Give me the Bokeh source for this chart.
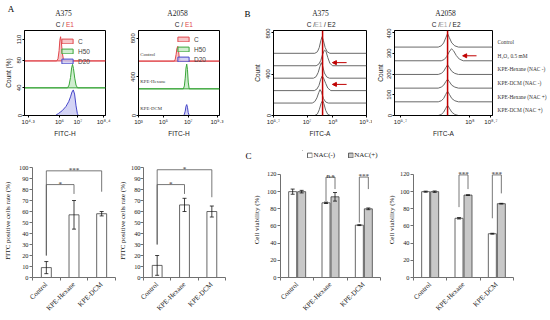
import math
from bokeh.plotting import figure
from bokeh.layouts import row, column
from bokeh.models import (FixedTicker, Label, LabelSet, Legend, LegendItem, Span,
                          Arrow, NormalHead, Whisker, TeeHead, ColumnDataSource, LinearAxis)
from bokeh.embed import file_html
from bokeh.resources import INLINE
from bokeh.core.properties import value

SANS = "Liberation Sans"
SERIF = "Liberation Serif"

# ---------------- DATA ----------------
# A (top-left): A375 FITC-H histograms (x = log10 FITC-H, y = count %)
fa375_ticks = [4.3, 6, 7, 8.4]
fa375_tick_labels = ["10⁴·³", "10⁶", "10⁷", "10⁸·⁴"]
fa375_yticks = [0, 40, 80, 110]
fa375_names = ["C", "H50", "D20"]
fa375_offsets = [79, 40, 0]
fa375_c_x = [4.1, 5.85, 5.92, 5.98, 6.02, 6.06, 6.1, 6.15, 6.21, 6.28, 8.5]
fa375_c_y = [0, 0, 3, 15, 30, 35, 28, 12, 3, 0, 0]
fa375_h_x = [4.1, 6.44, 6.52, 6.6, 6.66, 6.71, 6.76, 6.83, 6.9, 6.98, 8.5]
fa375_h_y = [0, 0, 4, 15, 29, 34, 28, 14, 4, 0, 0]
fa375_d_x = [4.1, 5.78, 5.95, 6.15, 6.35, 6.5, 6.6, 6.68, 6.75, 6.82, 6.9, 6.97, 7.02, 8.5]
fa375_d_y = [0, 0, 3, 7, 13, 20, 27, 34, 37, 31, 14, 3, 0, 0]

# A (top-right): A2058 FITC-H histograms
fa2058_ticks = [3, 5, 7, 9.3]
fa2058_tick_labels = ["10³", "10⁵", "10⁷", "10⁹·³"]
fa2058_yticks = [0, 400, 800]
fa2058_groups = ["Control", "KPE-Hexane", "KPE-DCM"]
fa2058_offsets = [563, 276, 0]
fa2058_c_x = [3, 5.88, 5.95, 6.02, 6.08, 6.15, 6.21, 6.27, 6.35, 9.5]
fa2058_c_y = [0, 0, 20, 70, 130, 153, 110, 35, 0, 0]
fa2058_h_x = [3, 6.6, 6.68, 6.75, 6.81, 6.87, 6.93, 6.99, 7.07, 9.5]
fa2058_h_y = [0, 0, 30, 110, 215, 256, 200, 70, 0, 0]
fa2058_d_x = [3, 6.6, 6.68, 6.75, 6.81, 6.87, 6.93, 6.99, 7.07, 9.5]
fa2058_d_y = [0, 0, 12, 45, 95, 113, 85, 30, 0, 0]

# B: FITC-A histograms, 6 conditions
b_names = ["Control", "H₂O₂ 0.5 mM", "KPE-Hexane (NAC -)", "KPE-DCM (NAC -)",
           "KPE-Hexane (NAC +)", "KPE-DCM (NAC +)"]
b375_ticks = [5.7, 7, 8, 9.3]
b375_tick_labels = ["10⁵·⁷", "10⁷", "10⁸", "10⁹·³"]
b375_yticks = [0, 400, 800]
b375_offsets = [600, 480, 360, 240, 120, 0]
b375_x = [
    [5.7, 7.3, 7.4, 7.47, 7.53, 7.58, 7.63, 7.7, 7.78, 7.88, 9.3],
    [5.7, 7.35, 7.45, 7.53, 7.6, 7.67, 7.73, 7.8, 7.88, 7.98, 9.3],
    [5.7, 7.25, 7.35, 7.43, 7.5, 7.55, 7.6, 7.67, 7.76, 7.86, 9.3],
    [5.7, 7.28, 7.38, 7.46, 7.53, 7.58, 7.64, 7.72, 7.8, 7.92, 9.3],
    [5.7, 7.2, 7.3, 7.38, 7.45, 7.5, 7.56, 7.63, 7.72, 7.82, 9.3],
    [5.7, 7.3, 7.4, 7.47, 7.54, 7.6, 7.65, 7.72, 7.8, 7.9, 9.3],
]
b375_y = [
    [0, 0, 15, 55, 120, 160, 125, 55, 15, 0, 0],
    [0, 0, 15, 50, 110, 150, 140, 80, 25, 0, 0],
    [0, 0, 15, 55, 115, 150, 120, 50, 12, 0, 0],
    [0, 0, 15, 50, 110, 140, 120, 70, 25, 0, 0],
    [0, 0, 15, 50, 100, 130, 105, 45, 10, 0, 0],
    [0, 0, 15, 55, 115, 145, 115, 50, 12, 0, 0],
]
b375_marker = 7.6
b375_arrow_y = [510, 300]
b375_arrow_from = 8.53
b375_arrow_to = 7.98

b2058_ticks = [5.7, 8, 8.7]
b2058_tick_labels = ["10⁵·⁷", "10⁸", "10⁸·⁷"]
b2058_yticks = [0, 100, 200, 300, 400]
b2058_offsets = [330, 264, 198, 132, 66, 0]
b2058_x = [
    [5.5, 6.95, 7.05, 7.13, 7.2, 7.26, 7.32, 7.4, 7.5, 7.62, 8.75],
    [5.5, 7.05, 7.15, 7.23, 7.31, 7.39, 7.46, 7.55, 7.65, 7.78, 8.75],
    [5.5, 6.95, 7.05, 7.13, 7.2, 7.26, 7.32, 7.4, 7.5, 7.62, 8.75],
    [5.5, 6.95, 7.05, 7.13, 7.2, 7.26, 7.32, 7.4, 7.5, 7.62, 8.75],
    [5.5, 6.95, 7.05, 7.13, 7.2, 7.26, 7.32, 7.4, 7.5, 7.62, 8.75],
    [5.5, 6.95, 7.05, 7.13, 7.2, 7.26, 7.32, 7.4, 7.5, 7.62, 8.75],
]
b2058_y = [
    [0, 0, 6, 20, 45, 65, 45, 20, 6, 0, 0],
    [0, 0, 6, 20, 42, 58, 48, 25, 8, 0, 0],
    [0, 0, 5, 15, 33, 46, 33, 15, 5, 0, 0],
    [0, 0, 5, 14, 31, 43, 31, 14, 5, 0, 0],
    [0, 0, 5, 16, 36, 51, 36, 16, 5, 0, 0],
    [0, 0, 5, 16, 35, 49, 35, 16, 5, 0, 0],
]
b2058_marker = 7.26
b2058_arrow_y = [288]
b2058_arrow_from = 8.22
b2058_arrow_to = 7.76

# A (bottom): FITC positive cells rate (%)
bar_cats = ["Control", "KPE-Hexane", "KPE-DCM"]
a375_rate = [9, 57, 58]
a375_rate_err = [5.5, 13, 2]
a2058_rate = [11, 66, 60]
a2058_rate_err = [9, 6, 5]
a375_br_from = [1, 1]
a375_br_to = [2, 3]
a375_br_top = [84.5, 97]
a375_br_left = [20, 20]
a375_br_right = [76, 78]
a375_br_text = ["*", "***"]
a2058_br_from = [1, 1]
a2058_br_to = [2, 3]
a2058_br_top = [84.5, 98]
a2058_br_left = [30, 30]
a2058_br_right = [76, 73]
a2058_br_text = ["*", "*"]

# C: Cell viability (%) with NAC(-) / NAC(+)
nac_labels = ["NAC(-)", "NAC(+)"]
c375_neg = [100, 87, 61]
c375_neg_err = [3, 0.8, 0.5]
c375_pos = [100, 94, 80]
c375_pos_err = [1.5, 5, 1]
c2058_neg = [100, 69, 51]
c2058_neg_err = [0.6, 0.8, 0.5]
c2058_pos = [100, 96, 86]
c2058_pos_err = [0.8, 0.4, 0.4]
c375_br_group = [2, 3]
c375_br_top = [117, 117]
c375_br_left = [89, 64]
c375_br_right = [103, 103]
c375_br_text = ["n.s", "***"]
c2058_br_group = [2, 3]
c2058_br_top = [119.5, 119.5]
c2058_br_left = [82, 69]
c2058_br_right = [103, 98]
c2058_br_text = ["***", "***"]

# ---------------- HELPERS ----------------
def mkfig(w, h, l, r, t, b, xr, yr):
    p = figure(width=w, height=h, x_range=xr, y_range=yr, title=None,
               output_backend="svg", toolbar_location=None,
               min_border_left=l, min_border_right=r, min_border_top=t, min_border_bottom=b)
    p.grid.visible = False
    p.outline_line_color = None
    return p


def header(x0, w, y0, h, top=0):
    f = figure(width=w, height=h, x_range=(x0, x0 + w), y_range=(y0 + h, y0 + top), title=None,
               output_backend="svg", toolbar_location=None, x_axis_type=None, y_axis_type=None,
               min_border=0, min_border_top=top)
    f.grid.visible = False
    f.outline_line_color = None
    return f


def htxt(f, text, x, y, size, font=SANS, color="#222222", align="center"):
    f.add_layout(Label(x=x, y=y, text=text, text_font=font, text_font_size=size,
                       text_color=color, text_align=align, text_baseline="middle"))


def flow_style(p, xt, xl, yt, xlabel, ylabel):
    p.outline_line_color = "black"
    p.outline_line_width = 1
    xa, ya = p.xaxis[0], p.yaxis[0]
    xa.ticker = FixedTicker(ticks=xt, minor_ticks=[])
    xa.major_label_overrides = {t: l for t, l in zip(xt, xl)}
    ya.ticker = FixedTicker(ticks=yt, minor_ticks=[])
    ya.major_label_orientation = "vertical"
    for ax in (xa, ya):
        ax.axis_line_color = "black"
        ax.major_tick_line_color = "black"
        ax.major_tick_out = 2
        ax.major_tick_in = 0
        ax.minor_tick_out = 0
        ax.minor_tick_in = 0
        ax.major_label_standoff = 1
        ax.major_label_text_font = SANS
        ax.major_label_text_font_size = "6px"
        ax.major_label_text_color = "#222222"
        ax.axis_label_text_font = SANS
        ax.axis_label_text_font_size = "6.5px"
        ax.axis_label_text_font_style = "normal"
        ax.axis_label_text_color = "#222222"
        ax.axis_label_standoff = 2
    xa.axis_label = xlabel
    if ylabel:
        ya.axis_label = ylabel
        ya.axis_label_standoff = 3


def bar_style(p, yt, ylabel, label_standoff):
    xa, ya = p.xaxis[0], p.yaxis[0]
    xa.ticker = FixedTicker(ticks=[1, 2, 3], minor_ticks=[0.5, 1.5, 2.5, 3.5])
    xa.major_label_overrides = {i + 1: c for i, c in enumerate(bar_cats)}
    xa.major_label_orientation = math.pi / 4
    xa.major_tick_out = 0
    xa.major_tick_in = 0
    xa.minor_tick_out = 3
    xa.minor_tick_in = 0
    xa.major_label_standoff = 3
    xa.major_label_text_font_size = "7px"
    ya.ticker = FixedTicker(ticks=yt, minor_ticks=[])
    ya.bounds = (yt[0], yt[-1])
    ya.major_tick_out = 3
    ya.major_tick_in = 0
    ya.minor_tick_out = 0
    ya.major_label_standoff = 1
    ya.major_label_text_font_size = "6.3px"
    ya.axis_label = ylabel
    ya.axis_label_standoff = label_standoff
    ya.axis_label_text_font = SERIF
    ya.axis_label_text_font_size = "7px"
    ya.axis_label_text_font_style = "normal"
    ya.axis_label_text_color = "#222222"
    for ax in (xa, ya):
        ax.axis_line_color = "#707070"
        ax.major_tick_line_color = "#707070"
        ax.minor_tick_line_color = "#707070"
        ax.major_label_text_font = SERIF
        ax.major_label_text_color = "#222222"


def brackets(p, x1, x2, top, yl, yr, texts):
    xs = [[a, a, b, b] for a, b in zip(x1, x2)]
    ys = [[l, t, t, r] for t, l, r in zip(top, yl, yr)]
    p.multi_line(xs, ys, line_color="#555555", line_width=0.8)
    src = ColumnDataSource(dict(x=[(a + b) / 2 for a, b in zip(x1, x2)], y=top, t=texts))
    p.add_layout(LabelSet(x="x", y="y", text="t", source=src, text_align="center",
                          text_baseline="alphabetic", y_offset=-1,
                          text_font=value(SERIF), text_font_size=value("7px"),
                          text_color="#222222"))


def whiskers(p, xs, vals, errs):
    src = ColumnDataSource(dict(x=xs, up=[v + e for v, e in zip(vals, errs)],
                                lo=[v - e for v, e in zip(vals, errs)]))
    w = Whisker(source=src, base="x", upper="up", lower="lo", line_color="#111111",
                line_width=0.8, level="annotation",
                upper_head=TeeHead(size=4, line_color="#111111", line_width=0.8),
                lower_head=TeeHead(size=4, line_color="#111111", line_width=0.8))
    p.add_layout(w)


RED, RED_F = "#e0474c", "#f4b9bb"
GREEN, GREEN_F = "#3aa63a", "#c4e8c4"
BLUE, BLUE_F = "#4646c8", "#c9c9f2"
GREY_LINE = "#6a6a6a"
MARK = "#c00000"
GREY_F = "#c8c8c8"
E1_GREY = "#a8a8a8"
INK = "#222222"


def flow_legend(p, rends, names, margin):
    leg = Legend(items=[LegendItem(label=n, renderers=[r]) for n, r in zip(names, rends)],
                 location="top_right", orientation="vertical", glyph_width=14, glyph_height=6,
                 label_height=8, spacing=2, padding=0, margin=margin, label_standoff=4,
                 border_line_color=None, background_fill_alpha=0,
                 label_text_font=SANS, label_text_font_size="6.5px")
    p.add_layout(leg)


def sub_title(f, xc, y, mid_color, three):
    # "C / E1" or "C / E1 / E2" with E1 coloured
    if three:
        htxt(f, "C /", xc - 5.5, y, "6.5px", SANS, INK, "right")
        htxt(f, "E1", xc - 2, y, "6.5px", SANS, mid_color, "center")
        htxt(f, "/ E2", xc + 3.5, y, "6.5px", SANS, INK, "left")
    else:
        htxt(f, "C /", xc - 1.5, y, "6.5px", SANS, INK, "right")
        htxt(f, "E1", xc + 0.5, y, "6.5px", SANS, mid_color, "left")

# ---------------- header (top row) ----------------
h1 = header(0, 550, 0, 28)
htxt(h1, "A", 10.5, 8, "9px", SERIF, "black")
htxt(h1, "A375", 63, 13, "7.5px", SERIF, INK)
sub_title(h1, 65, 24, RED, False)
htxt(h1, "A2058", 177, 13, "7.5px", SERIF, INK)
sub_title(h1, 184, 24, RED, False)
htxt(h1, "B", 247, 13, "9px", SERIF, "black")
htxt(h1, "A375", 320, 13, "7.5px", SERIF, INK)
sub_title(h1, 320, 24, E1_GREY, True)
htxt(h1, "A2058", 445, 13, "7.5px", SERIF, INK)
sub_title(h1, 445, 24, E1_GREY, True)

TR_H, TR_T, TR_B = 112, 2, 25

# ---------------- P1: A375 FITC-H ----------------
p1 = mkfig(128, TR_H, 24, 23, TR_T, TR_B, (4.1, 8.5), (0, 123))
flow_style(p1, fa375_ticks, fa375_tick_labels, fa375_yticks, "FITC-H", "Count (%)")
r1 = []
for xs, ys, off, lc, fc in zip([fa375_c_x, fa375_h_x, fa375_d_x], [fa375_c_y, fa375_h_y, fa375_d_y],
                               fa375_offsets, [RED, GREEN, BLUE], [RED_F, GREEN_F, BLUE_F]):
    r1.append(p1.patch(xs, [off + v for v in ys], fill_color=fc, fill_alpha=0.8,
                       line_color=lc, line_width=1))
flow_legend(p1, r1, fa375_names, 7)

# ---------------- P2: A2058 FITC-H ----------------
p2 = mkfig(117, TR_H, 9, 26, TR_T, TR_B, (3, 9.5), (0, 880))
flow_style(p2, fa2058_ticks, fa2058_tick_labels, fa2058_yticks, "FITC-H", None)
r2 = []
for xs, ys, off, lc, fc in zip([fa2058_c_x, fa2058_h_x, fa2058_d_x], [fa2058_c_y, fa2058_h_y, fa2058_d_y],
                               fa2058_offsets, [RED, GREEN, BLUE], [RED_F, GREEN_F, BLUE_F]):
    r2.append(p2.patch(xs, [off + v for v in ys], fill_color=fc, fill_alpha=0.8,
                       line_color=lc, line_width=1))
flow_legend(p2, r2, fa375_names, 5)
p2.add_layout(LabelSet(x="x", y="y", text="t",
                       source=ColumnDataSource(dict(x=[3.15] * 3, y=[o + 72 for o in fa2058_offsets],
                                                    t=fa2058_groups)),
                       text_align="left", text_baseline="middle", text_font=value(SERIF),
                       text_font_size=value("4.8px"), text_color="#333333"))

# ---------------- P3: B A375 FITC-A ----------------
p3 = mkfig(127, TR_H, 28, 6, TR_T, TR_B, (5.7, 9.3), (0, 820))
flow_style(p3, b375_ticks, b375_tick_labels, b375_yticks, "FITC-A", "Count")
for xs, ys, off in zip(b375_x, b375_y, b375_offsets):
    p3.line(xs, [off + v for v in ys], line_color=GREY_LINE, line_width=1)
p3.add_layout(Span(location=b375_marker, dimension="height", line_color=MARK, line_width=1.5))
for yy in b375_arrow_y:
    p3.add_layout(Arrow(x_start=b375_arrow_from, y_start=yy, x_end=b375_arrow_to, y_end=yy,
                        line_color=MARK, line_width=1,
                        end=NormalHead(size=4, fill_color=MARK, line_color=MARK)))

# ---------------- P4: B A2058 FITC-A ----------------
p4 = mkfig(178, TR_H, 22, 58, TR_T, TR_B, (5.5, 8.75), (0, 410))
flow_style(p4, b2058_ticks, b2058_tick_labels, b2058_yticks, "FITC-A", "Count")
p4.yaxis[0].axis_label_standoff = 1
for xs, ys, off in zip(b2058_x, b2058_y, b2058_offsets):
    p4.line(xs, [off + v for v in ys], line_color=GREY_LINE, line_width=1)
p4.add_layout(Span(location=b2058_marker, dimension="height", line_color=MARK, line_width=1.5))
for yy in b2058_arrow_y:
    p4.add_layout(Arrow(x_start=b2058_arrow_from, y_start=yy, x_end=b2058_arrow_to, y_end=yy,
                        line_color=MARK, line_width=1,
                        end=NormalHead(size=4, fill_color=MARK, line_color=MARK)))
ra = LinearAxis(ticker=FixedTicker(ticks=[o + 25 for o in b2058_offsets], minor_ticks=[]),
                major_label_overrides={o + 25: n for o, n in zip(b2058_offsets, b_names)},
                axis_line_color=None, major_tick_line_color=None, minor_tick_line_color=None,
                major_tick_out=0, major_tick_in=0, minor_tick_out=0, minor_tick_in=0,
                major_label_standoff=5, major_label_text_font=SERIF,
                major_label_text_font_size="5.4px", major_label_text_color="#333333")
p4.add_layout(ra, "right")

# ---------------- header (bottom row) ----------------
HDR_TOP = 10
h2a = header(0, 302, 140, 20, top=HDR_TOP)
htxt(h2a, "C", 248, 155.5, "9px", SERIF, "black")
h2b = header(302, 80, 140, 20, top=HDR_TOP)
# legend proxies: zero-height bars parked off the visible header range
dn = h2b.vbar(x=[0], top=[0], width=1, fill_color="white", line_color="#404040", line_width=0.8)
dp = h2b.vbar(x=[0], top=[0], width=1, fill_color=GREY_F, line_color="#404040", line_width=0.8)
h2b.add_layout(Legend(items=[LegendItem(label=nac_labels[0], renderers=[dn]),
                             LegendItem(label=nac_labels[1], renderers=[dp])],
                      location="center", orientation="horizontal", glyph_width=6, glyph_height=6,
                      label_height=8, label_standoff=1, spacing=12, padding=0, margin=0,
                      border_line_color=None, background_fill_alpha=0,
                      label_text_font=SERIF, label_text_font_size="7px", label_text_color=INK))

BR_H, BR_T, BR_B = 160, 0, 43

# ---------------- P5 / P6: FITC positive rate bars ----------------
cat_x = [1, 2, 3]
p5 = mkfig(116, BR_H, 32, 1, BR_T, BR_B, (0.5, 3.5), (0, 106.4))
bar_style(p5, list(range(0, 101, 10)), "FITC positive  cells  rate (%)", 4)
p5.vbar(x=cat_x, top=a375_rate, width=0.36, fill_color="white", line_color="#404040", line_width=0.8)
whiskers(p5, cat_x, a375_rate, a375_rate_err)
brackets(p5, a375_br_from, a375_br_to, a375_br_top, a375_br_left, a375_br_right, a375_br_text)

p6 = mkfig(129, BR_H, 27, 20, BR_T, BR_B, (0.5, 3.5), (0, 106.4))
bar_style(p6, list(range(0, 101, 10)), "FITC positive  cells  rate (%)", 1)
p6.yaxis[0].major_label_standoff = 0
p6.vbar(x=cat_x, top=a2058_rate, width=0.36, fill_color="white", line_color="#404040", line_width=0.8)
whiskers(p6, cat_x, a2058_rate, a2058_rate_err)
brackets(p6, a2058_br_from, a2058_br_to, a2058_br_top, a2058_br_left, a2058_br_right, a2058_br_text)

# ---------------- P7 / P8: cell viability bars ----------------
OFF = 0.135

def viability(p, neg, neg_err, pos, pos_err, grp, top, yl, yr, texts, lso):
    bar_style(p, list(range(0, 121, 20)), "Cell viability  (%)", lso)
    xn = [c - OFF for c in cat_x]
    xp = [c + OFF for c in cat_x]
    p.vbar(x=xn, top=neg, width=0.24, fill_color="white", line_color="#404040", line_width=0.8)
    p.vbar(x=xp, top=pos, width=0.24, fill_color=GREY_F, line_color="#404040", line_width=0.8)
    whiskers(p, xn, neg, neg_err)
    whiskers(p, xp, pos, pos_err)
    brackets(p, [g - OFF for g in grp], [g + OFF for g in grp], top, yl, yr, texts)

p7 = mkfig(140, BR_H, 35, 5, BR_T, BR_B, (0.5, 3.5), (0, 136.3))
viability(p7, c375_neg, c375_neg_err, c375_pos, c375_pos_err,
          c375_br_group, c375_br_top, c375_br_left, c375_br_right, c375_br_text, 3)

p8 = mkfig(165, BR_H, 28, 37, BR_T, BR_B, (0.5, 3.5), (0, 136.3))
viability(p8, c2058_neg, c2058_neg_err, c2058_pos, c2058_pos_err,
          c2058_br_group, c2058_br_top, c2058_br_left, c2058_br_right, c2058_br_text, 1)

layout = column(h1, row(p1, p2, p3, p4), row(h2a, h2b), row(p5, p6, p7, p8))
open("out.html", "w").write(file_html(layout, INLINE))
